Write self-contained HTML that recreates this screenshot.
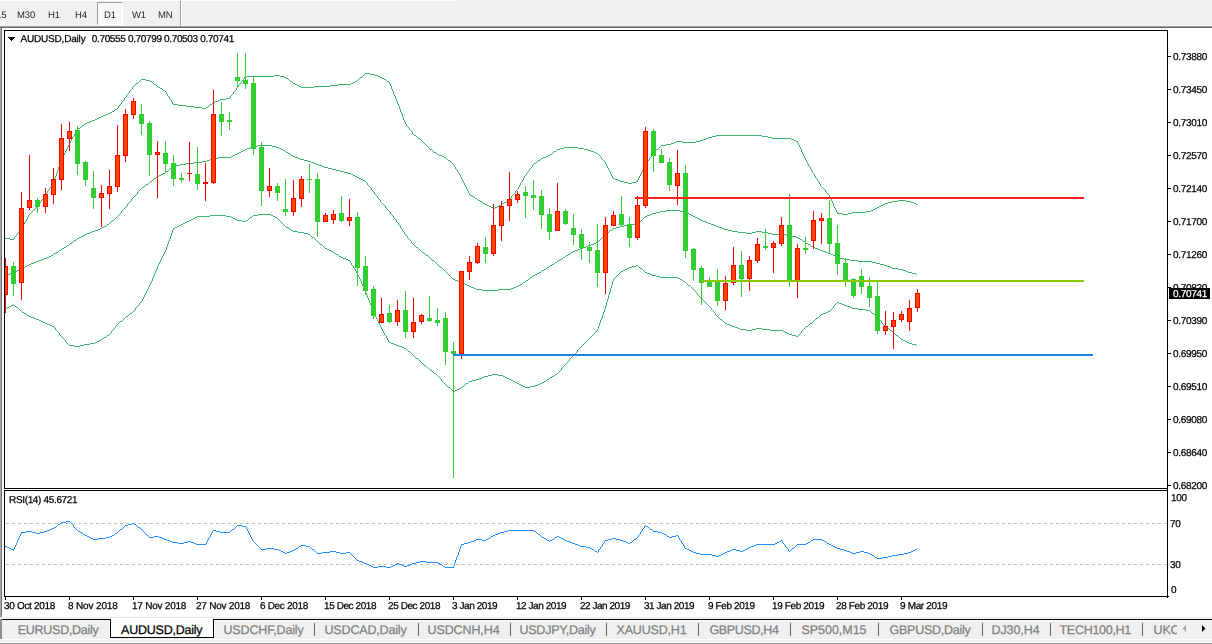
<!DOCTYPE html>
<html><head><meta charset="utf-8"><title>AUDUSD,Daily</title>
<style>
html,body{margin:0;padding:0;background:#fff;}
body{width:1212px;height:644px;overflow:hidden;position:relative;font-family:"Liberation Sans",sans-serif;}
.t{position:absolute;white-space:nowrap;line-height:1.2;text-rendering:geometricPrecision;-webkit-text-stroke:0.25px currentColor;}
#tb{position:absolute;left:0;top:0;width:1212px;height:25px;background:#f0f0f0;}
.abs{position:absolute;}
svg{position:absolute;left:0;top:0;}
</style></head><body>
<div id="tb"></div>
<div class="abs" style="left:0;top:0;width:454px;height:1px;background:#fff"></div>
<div class="abs" style="left:0;top:25px;width:1212px;height:1px;background:#f4f4f4"></div>
<div class="abs" style="left:0;top:26px;width:1212px;height:1px;background:#a0a0a0"></div>
<div class="abs" style="left:0;top:27px;width:1212px;height:1px;background:#686868"></div>
<div class="abs" style="left:0;top:28px;width:1px;height:590px;background:#aaaaaa"></div>
<div class="abs" style="left:1px;top:28px;width:1px;height:589px;background:#727272"></div>
<!-- toolbar buttons -->
<div class="abs" style="left:97px;top:2px;width:26px;height:23px;background:repeating-conic-gradient(#fff 0% 25%, #f0f0f0 0% 50%) 0 0/2px 2px;border-left:1px solid #a0a0a0;border-top:1px solid #a0a0a0;border-right:1px solid #fff;border-bottom:1px solid #fff;box-sizing:border-box"></div>
<div class="abs" style="left:180px;top:1px;width:1px;height:25px;background:#a0a0a0"></div><div class="abs" style="left:181px;top:1px;width:1px;height:24px;background:#fff"></div>
<div class="t" style="left:-4.0px;top:10px;font-size:9.5px;color:#282828;letter-spacing:-0.1px;will-change:transform;-webkit-text-stroke:0;">15</div><div class="t" style="left:16.7px;top:10px;font-size:9.5px;color:#282828;letter-spacing:-0.1px;will-change:transform;-webkit-text-stroke:0;">M30</div><div class="t" style="left:47.7px;top:10px;font-size:9.5px;color:#282828;letter-spacing:-0.1px;will-change:transform;-webkit-text-stroke:0;">H1</div><div class="t" style="left:74.9px;top:10px;font-size:9.5px;color:#282828;letter-spacing:-0.1px;will-change:transform;-webkit-text-stroke:0;">H4</div><div class="t" style="left:103.5px;top:10px;font-size:9.5px;color:#282828;letter-spacing:-0.1px;will-change:transform;-webkit-text-stroke:0;">D1</div><div class="t" style="left:131.5px;top:10px;font-size:9.5px;color:#282828;letter-spacing:-0.1px;will-change:transform;-webkit-text-stroke:0;">W1</div><div class="t" style="left:158.0px;top:10px;font-size:9.5px;color:#282828;letter-spacing:-0.1px;will-change:transform;-webkit-text-stroke:0;">MN</div>
<!-- tab bar -->
<div class="abs" style="left:2px;top:617px;width:1210px;height:1px;background:#e4e4e4"></div>
<div class="abs" style="left:0;top:620px;width:1212px;height:19px;background:#f0f0f0"></div>
<div class="abs" style="left:0;top:619px;width:1212px;height:1px;background:#000"></div>
<div class="abs" style="left:214px;top:620px;width:998px;height:1px;background:#fff"></div>
<div class="abs" style="left:214px;top:620px;width:1px;height:18px;background:#fff"></div>
<div class="abs" style="left:109px;top:620px;width:1px;height:18px;background:#fff"></div>
<div class="abs" style="left:0;top:619px;width:2px;height:20px;background:#909090"></div>
<div class="abs" style="left:110px;top:618px;width:104px;height:20px;background:#fff;border:1px solid #000;border-top:none;box-sizing:border-box"></div>
<div class="abs" style="left:110px;top:618px;width:104px;height:1px;background:#fff"></div>
<div class="abs" style="left:0;top:639px;width:1212px;height:1px;background:#fff"></div>
<div class="abs" style="left:0;top:640px;width:1212px;height:2px;background:#f0f0f0"></div>
<div class="abs" style="left:0;top:642px;width:1212px;height:1px;background:#f4f4f4"></div>
<div class="abs" style="left:0;top:643px;width:1212px;height:1px;background:#a0a0a0"></div>
<div class="abs" style="left:314px;top:623px;width:1px;height:13px;background:#646464"></div><div class="abs" style="left:418px;top:623px;width:1px;height:13px;background:#646464"></div><div class="abs" style="left:510px;top:623px;width:1px;height:13px;background:#646464"></div><div class="abs" style="left:606px;top:623px;width:1px;height:13px;background:#646464"></div><div class="abs" style="left:698px;top:623px;width:1px;height:13px;background:#646464"></div><div class="abs" style="left:790px;top:623px;width:1px;height:13px;background:#646464"></div><div class="abs" style="left:878px;top:623px;width:1px;height:13px;background:#646464"></div><div class="abs" style="left:982px;top:623px;width:1px;height:13px;background:#646464"></div><div class="abs" style="left:1050px;top:623px;width:1px;height:13px;background:#646464"></div><div class="abs" style="left:1142px;top:623px;width:1px;height:13px;background:#646464"></div>
<div class="t" style="left:17.8px;top:623px;font-size:12.5px;letter-spacing:-0.279px;color:#808080;">EURUSD,Daily</div><div class="t" style="left:121.1px;top:623px;font-size:12.5px;letter-spacing:-0.237px;color:#000;">AUDUSD,Daily</div><div class="t" style="left:223.5px;top:623px;font-size:12.5px;letter-spacing:-0.163px;color:#808080;">USDCHF,Daily</div><div class="t" style="left:324.5px;top:623px;font-size:12.5px;letter-spacing:-0.171px;color:#808080;">USDCAD,Daily</div><div class="t" style="left:427.5px;top:623px;font-size:12.5px;letter-spacing:-0.104px;color:#808080;">USDCNH,H4</div><div class="t" style="left:519.5px;top:623px;font-size:12.5px;letter-spacing:-0.247px;color:#808080;">USDJPY,Daily</div><div class="t" style="left:616.5px;top:623px;font-size:12.5px;letter-spacing:-0.172px;color:#808080;">XAUUSD,H1</div><div class="t" style="left:709.5px;top:623px;font-size:12.5px;letter-spacing:-0.361px;color:#808080;">GBPUSD,H4</div><div class="t" style="left:801.5px;top:623px;font-size:12.5px;letter-spacing:-0.037px;color:#808080;">SP500,M15</div><div class="t" style="left:889.5px;top:623px;font-size:12.5px;letter-spacing:-0.254px;color:#808080;">GBPUSD,Daily</div><div class="t" style="left:991.5px;top:623px;font-size:12.5px;letter-spacing:-0.091px;color:#808080;">DJ30,H4</div><div class="t" style="left:1059.5px;top:623px;font-size:12.5px;letter-spacing:-0.284px;color:#808080;">TECH100,H1</div><div class="t" style="left:1153.5px;top:623px;font-size:12.5px;letter-spacing:-0.137px;color:#808080;">UKC</div>
<div class="abs" style="left:1177px;top:620px;width:35px;height:19px;background:#f0f0f0"></div>
<svg width="1212" height="644" viewBox="0 0 1212 644" shape-rendering="crispEdges">
<rect x="4" y="30" width="1164" height="1" fill="#000"/>
<rect x="4" y="30" width="1" height="459" fill="#000"/>
<rect x="4" y="488" width="1164" height="1" fill="#000"/>
<rect x="1167" y="30" width="1" height="568" fill="#000"/>
<rect x="4" y="490" width="1164" height="1" fill="#000"/>
<rect x="4" y="490" width="1" height="107" fill="#000"/>
<rect x="4" y="596" width="1165" height="1" fill="#000"/>
<path d="M5 238h5v1h-5zM10 239h4v1h-4zM14 237h1v2h-1zM15 236h1v1h-1zM16 235h1v1h-1zM17 233h1v2h-1zM18 232h1v1h-1zM19 231h1v1h-1zM20 229h1v2h-1zM21 228h1v1h-1zM22 226h1v2h-1zM23 224h1v2h-1zM24 222h1v2h-1zM25 221h1v1h-1zM26 219h1v2h-1zM27 217h1v2h-1zM28 215h1v2h-1zM29 214h1v1h-1zM30 213h1v1h-1zM31 212h1v1h-1zM32 211h1v1h-1zM33 210h1v1h-1zM34 209h1v1h-1zM35 208h1v1h-1zM36 207h1v1h-1zM37 206h1v1h-1zM38 204h1v2h-1zM39 203h1v1h-1zM40 202h1v1h-1zM41 200h1v2h-1zM42 199h1v1h-1zM43 198h1v1h-1zM44 196h1v2h-1zM45 195h1v1h-1zM46 193h1v2h-1zM47 191h1v2h-1zM48 190h1v1h-1zM49 188h1v2h-1zM50 187h1v1h-1zM51 185h1v2h-1zM52 183h1v2h-1zM53 181h1v2h-1zM54 178h1v3h-1zM55 176h1v2h-1zM56 173h1v3h-1zM57 170h1v3h-1zM58 167h1v3h-1zM59 165h1v2h-1zM60 162h1v3h-1zM61 159h1v3h-1zM62 157h1v2h-1zM63 155h1v2h-1zM64 153h1v2h-1zM65 151h1v2h-1zM66 149h1v2h-1zM67 147h1v2h-1zM68 145h1v2h-1zM69 143h1v2h-1zM70 141h1v2h-1zM71 139h1v2h-1zM72 137h1v2h-1zM73 136h1v1h-1zM74 134h1v2h-1zM75 132h1v2h-1zM76 130h1v2h-1zM77 129h1v1h-1zM78 128h2v1h-2zM80 127h1v1h-1zM81 126h1v1h-1zM82 125h2v1h-2zM84 124h1v1h-1zM85 123h2v1h-2zM87 122h3v1h-3zM90 121h2v1h-2zM92 120h3v1h-3zM95 119h2v1h-2zM97 118h2v1h-2zM99 117h2v1h-2zM101 116h2v1h-2zM103 115h3v1h-3zM106 114h2v1h-2zM108 113h2v1h-2zM110 112h2v1h-2zM112 111h2v1h-2zM114 110h1v1h-1zM115 109h2v1h-2zM117 108h1v1h-1zM118 106h1v2h-1zM119 105h1v1h-1zM120 104h1v1h-1zM121 102h1v2h-1zM122 101h1v1h-1zM123 100h1v1h-1zM124 98h1v2h-1zM125 97h1v1h-1zM126 95h1v2h-1zM127 94h1v1h-1zM128 93h1v1h-1zM129 91h1v2h-1zM130 90h1v1h-1zM131 89h1v1h-1zM132 87h1v2h-1zM133 86h1v1h-1zM134 85h1v1h-1zM135 84h1v1h-1zM136 83h2v1h-2zM138 82h1v1h-1zM139 81h1v1h-1zM140 80h1v1h-1zM141 79h5v1h-5zM146 80h4v1h-4zM150 81h2v1h-2zM152 82h1v1h-1zM153 83h1v1h-1zM154 84h2v1h-2zM156 85h1v1h-1zM157 86h1v1h-1zM158 87h2v1h-2zM160 88h2v1h-2zM162 89h1v1h-1zM163 90h2v1h-2zM165 91h1v1h-1zM166 92h1v2h-1zM167 94h1v2h-1zM168 96h1v1h-1zM169 97h1v2h-1zM170 99h1v1h-1zM171 100h1v2h-1zM172 102h1v2h-1zM173 104h5v1h-5zM178 105h8v1h-8zM186 106h8v1h-8zM194 107h8v1h-8zM202 108h4v1h-4zM206 107h2v1h-2zM208 106h1v1h-1zM209 105h1v1h-1zM210 104h2v1h-2zM212 103h1v1h-1zM213 102h2v1h-2zM215 101h3v1h-3zM218 100h2v1h-2zM220 99h6v1h-6zM226 98h4v1h-4zM230 96h1v2h-1zM231 95h1v1h-1zM232 94h1v1h-1zM233 92h1v2h-1zM234 91h1v1h-1zM235 90h1v1h-1zM236 88h1v2h-1zM237 87h1v1h-1zM238 85h1v2h-1zM239 84h1v1h-1zM240 83h1v1h-1zM241 81h1v2h-1zM242 80h1v1h-1zM243 79h1v1h-1zM244 77h1v2h-1zM245 76h29v1h-29zM274 75h6v1h-6zM280 76h4v1h-4zM284 77h2v1h-2zM286 78h2v1h-2zM288 79h1v1h-1zM289 80h1v1h-1zM290 81h2v1h-2zM292 82h1v1h-1zM293 83h2v1h-2zM295 84h2v1h-2zM297 85h2v1h-2zM299 86h2v1h-2zM301 87h13v1h-13zM314 86h16v1h-16zM330 85h8v1h-8zM338 84h13v1h-13zM351 83h2v1h-2zM353 82h2v1h-2zM355 81h2v1h-2zM357 80h1v1h-1zM358 79h1v1h-1zM359 78h1v1h-1zM360 77h2v1h-2zM362 76h1v1h-1zM363 75h1v1h-1zM364 74h1v1h-1zM365 73h5v1h-5zM370 74h5v1h-5zM375 75h3v1h-3zM378 76h2v1h-2zM380 77h2v1h-2zM382 78h2v1h-2zM384 79h2v1h-2zM386 80h1v1h-1zM387 81h2v1h-2zM389 82h1v2h-1zM390 84h1v2h-1zM391 86h1v3h-1zM392 89h1v2h-1zM393 91h1v3h-1zM394 94h1v2h-1zM395 96h1v3h-1zM396 99h1v2h-1zM397 101h1v3h-1zM398 104h1v2h-1zM399 106h1v3h-1zM400 109h1v3h-1zM401 112h1v2h-1zM402 114h1v3h-1zM403 117h1v3h-1zM404 120h1v2h-1zM405 122h1v2h-1zM406 124h1v2h-1zM407 126h1v1h-1zM408 127h1v1h-1zM409 128h1v2h-1zM410 130h1v1h-1zM411 131h1v1h-1zM412 132h1v2h-1zM413 134h1v1h-1zM414 135h2v1h-2zM416 136h1v1h-1zM417 137h1v1h-1zM418 138h2v1h-2zM420 139h1v1h-1zM421 140h1v1h-1zM422 141h1v1h-1zM423 142h1v1h-1zM424 143h1v1h-1zM425 144h1v1h-1zM426 145h1v1h-1zM427 146h1v1h-1zM428 147h1v1h-1zM429 148h1v1h-1zM430 149h2v1h-2zM432 150h1v1h-1zM433 151h1v1h-1zM434 152h2v1h-2zM436 153h1v1h-1zM437 154h2v1h-2zM439 155h3v1h-3zM442 156h2v1h-2zM444 157h2v1h-2zM446 158h1v1h-1zM447 159h1v1h-1zM448 160h2v1h-2zM450 161h1v1h-1zM451 162h1v1h-1zM452 163h1v1h-1zM453 164h1v1h-1zM454 165h1v2h-1zM455 167h1v2h-1zM456 169h1v1h-1zM457 170h1v2h-1zM458 172h1v1h-1zM459 173h1v2h-1zM460 175h1v2h-1zM461 177h1v2h-1zM462 179h1v2h-1zM463 181h1v2h-1zM464 183h1v2h-1zM465 185h1v2h-1zM466 187h1v2h-1zM467 189h1v2h-1zM468 191h1v2h-1zM469 193h1v2h-1zM470 195h2v1h-2zM472 196h2v1h-2zM474 197h1v1h-1zM475 198h2v1h-2zM477 199h1v1h-1zM478 200h2v1h-2zM480 201h2v1h-2zM482 202h1v1h-1zM483 203h2v1h-2zM485 204h2v1h-2zM487 205h2v1h-2zM489 206h2v1h-2zM491 207h2v1h-2zM493 208h2v1h-2zM495 207h2v1h-2zM497 206h2v1h-2zM499 205h2v1h-2zM501 204h1v1h-1zM502 203h2v1h-2zM504 202h2v1h-2zM506 201h1v1h-1zM507 200h2v1h-2zM509 199h1v1h-1zM510 198h1v1h-1zM511 196h1v2h-1zM512 195h1v1h-1zM513 194h1v1h-1zM514 193h1v1h-1zM515 191h1v2h-1zM516 190h1v1h-1zM517 189h1v1h-1zM518 187h1v2h-1zM519 185h1v2h-1zM520 183h1v2h-1zM521 182h1v1h-1zM522 180h1v2h-1zM523 178h1v2h-1zM524 176h1v2h-1zM525 175h1v1h-1zM526 173h1v2h-1zM527 172h1v1h-1zM528 171h1v1h-1zM529 169h1v2h-1zM530 168h1v1h-1zM531 167h1v1h-1zM532 165h1v2h-1zM533 164h1v1h-1zM534 163h2v1h-2zM536 162h1v1h-1zM537 161h1v1h-1zM538 160h2v1h-2zM540 159h1v1h-1zM541 158h2v1h-2zM543 157h3v1h-3zM546 156h2v1h-2zM548 155h2v1h-2zM550 154h2v1h-2zM552 153h1v1h-1zM553 152h1v1h-1zM554 151h2v1h-2zM556 150h1v1h-1zM557 149h3v1h-3zM560 148h4v1h-4zM564 147h14v1h-14zM578 148h6v1h-6zM584 149h4v1h-4zM588 150h3v1h-3zM591 151h3v1h-3zM594 152h2v1h-2zM596 153h2v1h-2zM598 154h1v1h-1zM599 155h1v1h-1zM600 156h1v1h-1zM601 157h1v2h-1zM602 159h1v1h-1zM603 160h1v1h-1zM604 161h1v1h-1zM605 162h1v2h-1zM606 164h1v2h-1zM607 166h1v2h-1zM608 168h1v2h-1zM609 170h1v2h-1zM610 172h1v2h-1zM611 174h1v2h-1zM612 176h1v2h-1zM613 178h2v1h-2zM615 179h3v1h-3zM618 180h2v1h-2zM620 181h4v1h-4zM624 182h4v1h-4zM628 183h4v1h-4zM632 182h4v1h-4zM636 181h2v1h-2zM637 180h1v1h-1zM638 178h1v2h-1zM639 176h1v2h-1zM640 174h1v2h-1zM641 172h1v2h-1zM642 170h1v2h-1zM643 168h1v2h-1zM644 166h1v2h-1zM645 165h1v1h-1zM646 163h1v2h-1zM647 161h1v2h-1zM648 160h1v1h-1zM649 158h1v2h-1zM650 157h1v1h-1zM651 155h1v2h-1zM652 153h1v2h-1zM653 152h1v1h-1zM654 151h1v1h-1zM655 150h1v1h-1zM656 149h2v1h-2zM658 148h1v1h-1zM659 147h1v1h-1zM660 146h1v1h-1zM661 145h5v1h-5zM666 144h5v1h-5zM671 143h3v1h-3zM674 142h2v1h-2zM676 141h6v1h-6zM682 142h14v1h-14zM696 141h4v1h-4zM700 140h3v1h-3zM703 139h3v1h-3zM706 138h2v1h-2zM708 137h4v1h-4zM712 136h4v1h-4zM716 135h46v1h-46zM762 136h6v1h-6zM768 137h4v1h-4zM772 138h19v1h-19zM791 139h3v1h-3zM794 140h2v1h-2zM796 141h2v1h-2zM797 142h1v1h-1zM798 143h1v2h-1zM799 145h1v2h-1zM800 147h1v2h-1zM801 149h1v3h-1zM802 152h1v2h-1zM803 154h1v2h-1zM804 156h1v2h-1zM805 158h1v2h-1zM806 160h1v2h-1zM807 162h1v2h-1zM808 164h1v2h-1zM809 166h1v1h-1zM810 167h1v2h-1zM811 169h1v2h-1zM812 171h1v2h-1zM813 173h1v1h-1zM814 174h1v2h-1zM815 176h1v2h-1zM816 178h1v1h-1zM817 179h1v2h-1zM818 181h1v1h-1zM819 182h1v2h-1zM820 184h1v2h-1zM821 186h1v1h-1zM822 187h1v1h-1zM823 188h1v1h-1zM824 189h1v1h-1zM825 190h1v2h-1zM826 192h1v1h-1zM827 193h1v1h-1zM828 194h1v1h-1zM829 195h1v2h-1zM830 197h1v2h-1zM831 199h1v2h-1zM832 201h1v2h-1zM833 203h1v3h-1zM834 206h1v2h-1zM835 208h1v2h-1zM836 210h1v2h-1zM837 212h1v1h-1zM837 213h5v1h-5zM842 214h6v1h-6zM848 213h4v1h-4zM852 212h14v1h-14zM866 211h5v1h-5zM871 210h2v1h-2zM873 209h2v1h-2zM875 208h2v1h-2zM877 207h2v1h-2zM879 206h2v1h-2zM881 205h2v1h-2zM883 204h2v1h-2zM885 203h3v1h-3zM888 202h4v1h-4zM892 201h6v1h-6zM898 200h8v1h-8zM906 201h5v1h-5zM911 202h3v1h-3zM914 203h2v1h-2zM916 204h1v1h-1z" fill="#3cb371"/>
<path d="M5 275h2v1h-2zM7 274h3v1h-3zM10 273h2v1h-2zM12 272h3v1h-3zM15 271h2v1h-2zM17 270h2v1h-2zM19 269h2v1h-2zM21 268h2v1h-2zM23 267h2v1h-2zM25 266h2v1h-2zM27 265h2v1h-2zM29 264h2v1h-2zM31 263h3v1h-3zM34 262h2v1h-2zM36 261h3v1h-3zM39 260h3v1h-3zM42 259h2v1h-2zM44 258h3v1h-3zM47 257h2v1h-2zM49 256h2v1h-2zM51 255h2v1h-2zM53 254h1v1h-1zM54 253h2v1h-2zM56 252h2v1h-2zM58 251h1v1h-1zM59 250h2v1h-2zM61 249h1v1h-1zM62 248h2v1h-2zM64 247h2v1h-2zM66 246h1v1h-1zM67 245h2v1h-2zM69 244h1v1h-1zM70 243h2v1h-2zM72 242h1v1h-1zM73 241h1v1h-1zM74 240h2v1h-2zM76 239h1v1h-1zM77 238h2v1h-2zM79 237h2v1h-2zM81 236h2v1h-2zM83 235h2v1h-2zM85 234h2v1h-2zM87 233h3v1h-3zM90 232h2v1h-2zM92 231h3v1h-3zM95 230h3v1h-3zM98 229h2v1h-2zM100 228h2v1h-2zM102 227h2v1h-2zM104 226h2v1h-2zM106 225h1v1h-1zM107 224h2v1h-2zM109 223h1v1h-1zM110 222h1v1h-1zM111 221h1v1h-1zM112 220h2v1h-2zM114 219h1v1h-1zM115 218h1v1h-1zM116 217h1v1h-1zM117 216h1v1h-1zM118 215h1v1h-1zM119 214h1v1h-1zM120 213h1v1h-1zM121 211h1v2h-1zM122 210h1v1h-1zM123 209h1v1h-1zM124 208h1v1h-1zM125 207h1v1h-1zM126 206h1v1h-1zM127 204h1v2h-1zM128 203h1v1h-1zM129 202h1v1h-1zM130 201h1v1h-1zM131 199h1v2h-1zM132 198h1v1h-1zM133 197h1v1h-1zM134 196h1v1h-1zM135 195h1v1h-1zM136 194h1v1h-1zM137 192h1v2h-1zM138 191h1v1h-1zM139 190h1v1h-1zM140 189h1v1h-1zM141 188h1v1h-1zM142 187h2v1h-2zM144 186h1v1h-1zM145 185h1v1h-1zM146 184h2v1h-2zM148 183h1v1h-1zM149 182h1v1h-1zM150 181h2v1h-2zM152 180h1v1h-1zM153 179h1v1h-1zM154 178h2v1h-2zM156 177h1v1h-1zM157 176h2v1h-2zM159 175h2v1h-2zM161 174h2v1h-2zM163 173h2v1h-2zM165 172h1v1h-1zM166 171h2v1h-2zM168 170h1v1h-1zM169 169h1v1h-1zM170 168h2v1h-2zM172 167h1v1h-1zM173 166h3v1h-3zM176 165h4v1h-4zM180 164h6v1h-6zM186 163h8v1h-8zM194 162h8v1h-8zM202 161h5v1h-5zM207 160h3v1h-3zM210 159h2v1h-2zM212 158h6v1h-6zM218 157h13v1h-13zM231 156h2v1h-2zM233 155h2v1h-2zM235 154h2v1h-2zM237 153h2v1h-2zM239 152h2v1h-2zM241 151h2v1h-2zM243 150h2v1h-2zM245 149h2v1h-2zM247 148h3v1h-3zM250 147h2v1h-2zM252 146h6v1h-6zM258 145h14v1h-14zM272 146h4v1h-4zM276 147h3v1h-3zM279 148h2v1h-2zM281 149h2v1h-2zM283 150h2v1h-2zM285 151h1v1h-1zM286 152h2v1h-2zM288 153h2v1h-2zM290 154h1v1h-1zM291 155h2v1h-2zM293 156h2v1h-2zM295 157h3v1h-3zM298 158h2v1h-2zM300 159h4v1h-4zM304 160h4v1h-4zM308 161h3v1h-3zM311 162h3v1h-3zM314 163h2v1h-2zM316 164h3v1h-3zM319 165h3v1h-3zM322 166h2v1h-2zM324 167h4v1h-4zM328 168h4v1h-4zM332 169h4v1h-4zM336 170h4v1h-4zM340 171h4v1h-4zM344 172h4v1h-4zM348 173h3v1h-3zM351 174h2v1h-2zM353 175h2v1h-2zM355 176h2v1h-2zM357 177h2v1h-2zM359 178h2v1h-2zM361 179h2v1h-2zM363 180h2v1h-2zM365 181h1v1h-1zM366 182h1v1h-1zM367 183h1v2h-1zM368 185h1v1h-1zM369 186h1v1h-1zM370 187h1v1h-1zM371 188h1v2h-1zM372 190h1v1h-1zM373 191h1v1h-1zM374 192h1v2h-1zM375 194h1v1h-1zM376 195h1v1h-1zM377 196h1v2h-1zM378 198h1v1h-1zM379 199h1v1h-1zM380 200h1v2h-1zM381 202h1v1h-1zM382 203h1v1h-1zM383 204h1v1h-1zM384 205h1v1h-1zM385 206h1v2h-1zM386 208h1v1h-1zM387 209h1v1h-1zM388 210h1v1h-1zM389 211h1v1h-1zM390 212h1v2h-1zM391 214h1v1h-1zM392 215h1v1h-1zM393 216h1v2h-1zM394 218h1v1h-1zM395 219h1v1h-1zM396 220h1v2h-1zM397 222h1v1h-1zM398 223h1v2h-1zM399 225h1v1h-1zM400 226h1v2h-1zM401 228h1v1h-1zM402 229h1v2h-1zM403 231h1v1h-1zM404 232h1v2h-1zM405 234h1v1h-1zM406 235h1v1h-1zM407 236h1v2h-1zM408 238h1v1h-1zM409 239h1v1h-1zM410 240h1v1h-1zM411 241h1v2h-1zM412 243h1v1h-1zM413 244h1v1h-1zM414 245h1v1h-1zM415 246h1v1h-1zM416 247h2v1h-2zM418 248h1v1h-1zM419 249h1v1h-1zM420 250h1v1h-1zM421 251h1v1h-1zM422 252h2v1h-2zM424 253h1v1h-1zM425 254h1v1h-1zM426 255h2v1h-2zM428 256h1v1h-1zM429 257h1v1h-1zM430 258h1v1h-1zM431 259h1v1h-1zM432 260h2v1h-2zM434 261h1v1h-1zM435 262h1v1h-1zM436 263h1v1h-1zM437 264h1v1h-1zM438 265h1v1h-1zM439 266h1v1h-1zM440 267h2v1h-2zM442 268h1v1h-1zM443 269h1v1h-1zM444 270h1v1h-1zM445 271h1v1h-1zM446 272h1v1h-1zM447 273h1v1h-1zM448 274h1v1h-1zM449 275h1v1h-1zM450 276h1v1h-1zM451 277h1v1h-1zM452 278h1v1h-1zM453 279h2v1h-2zM455 280h3v1h-3zM458 281h2v1h-2zM460 282h3v1h-3zM463 283h2v1h-2zM465 284h2v1h-2zM467 285h2v1h-2zM469 286h2v1h-2zM471 287h3v1h-3zM474 288h2v1h-2zM476 289h6v1h-6zM482 290h16v1h-16zM498 289h13v1h-13zM511 288h3v1h-3zM514 287h2v1h-2zM516 286h2v1h-2zM518 285h2v1h-2zM520 284h2v1h-2zM522 283h1v1h-1zM523 282h2v1h-2zM525 281h1v1h-1zM526 280h2v1h-2zM528 279h1v1h-1zM529 278h1v1h-1zM530 277h2v1h-2zM532 276h1v1h-1zM533 275h2v1h-2zM535 274h2v1h-2zM537 273h2v1h-2zM539 272h2v1h-2zM541 271h1v1h-1zM542 270h2v1h-2zM544 269h2v1h-2zM546 268h1v1h-1zM547 267h2v1h-2zM549 266h1v1h-1zM550 265h2v1h-2zM552 264h2v1h-2zM554 263h1v1h-1zM555 262h2v1h-2zM557 261h1v1h-1zM558 260h2v1h-2zM560 259h2v1h-2zM562 258h1v1h-1zM563 257h2v1h-2zM565 256h1v1h-1zM566 255h2v1h-2zM568 254h2v1h-2zM570 253h1v1h-1zM571 252h2v1h-2zM573 251h2v1h-2zM575 250h3v1h-3zM578 249h2v1h-2zM580 248h3v1h-3zM583 247h3v1h-3zM586 246h2v1h-2zM588 245h3v1h-3zM591 244h3v1h-3zM594 243h2v1h-2zM596 242h2v1h-2zM598 241h1v1h-1zM599 240h1v1h-1zM600 239h1v1h-1zM601 238h1v1h-1zM602 237h1v1h-1zM603 236h1v1h-1zM604 235h1v1h-1zM605 234h1v1h-1zM606 233h2v1h-2zM608 232h1v1h-1zM609 231h1v1h-1zM610 230h2v1h-2zM612 229h1v1h-1zM613 228h3v1h-3zM616 227h4v1h-4zM620 226h4v1h-4zM624 225h4v1h-4zM628 224h10v1h-10zM638 223h1v1h-1zM639 222h1v1h-1zM640 221h1v1h-1zM641 220h1v1h-1zM642 219h1v1h-1zM643 218h1v1h-1zM644 217h1v1h-1zM645 216h2v1h-2zM647 215h3v1h-3zM650 214h2v1h-2zM652 213h4v1h-4zM656 212h4v1h-4zM660 211h6v1h-6zM666 210h14v1h-14zM680 211h4v1h-4zM684 212h3v1h-3zM687 213h2v1h-2zM689 214h2v1h-2zM691 215h2v1h-2zM693 216h2v1h-2zM695 217h2v1h-2zM697 218h2v1h-2zM699 219h2v1h-2zM701 220h2v1h-2zM703 221h3v1h-3zM706 222h2v1h-2zM708 223h3v1h-3zM711 224h3v1h-3zM714 225h2v1h-2zM716 226h3v1h-3zM719 227h3v1h-3zM722 228h2v1h-2zM724 229h4v1h-4zM728 230h4v1h-4zM732 231h6v1h-6zM738 232h8v1h-8zM746 233h6v1h-6zM752 232h4v1h-4zM756 231h6v1h-6zM762 232h6v1h-6zM768 233h4v1h-4zM772 234h14v1h-14zM786 235h6v1h-6zM792 236h4v1h-4zM796 237h2v1h-2zM798 238h2v1h-2zM800 239h2v1h-2zM802 240h1v1h-1zM803 241h2v1h-2zM805 242h1v1h-1zM806 243h2v1h-2zM808 244h2v1h-2zM810 245h1v1h-1zM811 246h2v1h-2zM813 247h2v1h-2zM815 248h3v1h-3zM818 249h2v1h-2zM820 250h3v1h-3zM823 251h3v1h-3zM826 252h2v1h-2zM828 253h3v1h-3zM831 254h2v1h-2zM833 255h2v1h-2zM835 256h2v1h-2zM837 257h3v1h-3zM840 258h4v1h-4zM844 259h6v1h-6zM850 260h8v1h-8zM858 261h14v1h-14zM872 262h4v1h-4zM876 263h4v1h-4zM880 264h4v1h-4zM884 265h3v1h-3zM887 266h3v1h-3zM890 267h2v1h-2zM892 268h6v1h-6zM898 269h5v1h-5zM903 270h3v1h-3zM906 271h2v1h-2zM908 272h4v1h-4zM912 273h4v1h-4zM916 274h1v1h-1z" fill="#3cb371"/>
<path d="M5 308h2v1h-2zM7 307h2v1h-2zM9 306h2v1h-2zM11 305h2v1h-2zM13 304h1v1h-1zM14 305h1v1h-1zM15 306h1v1h-1zM16 307h2v1h-2zM18 308h1v1h-1zM19 309h1v1h-1zM20 310h1v1h-1zM21 311h1v1h-1zM22 312h2v1h-2zM24 313h2v1h-2zM26 314h1v1h-1zM27 315h2v1h-2zM29 316h2v1h-2zM31 317h3v1h-3zM34 318h2v1h-2zM36 319h3v1h-3zM39 320h2v1h-2zM41 321h2v1h-2zM43 322h2v1h-2zM45 323h2v1h-2zM47 324h3v1h-3zM50 325h2v1h-2zM52 326h2v1h-2zM54 327h1v1h-1zM55 328h1v2h-1zM56 330h1v1h-1zM57 331h1v1h-1zM58 332h1v1h-1zM59 333h1v2h-1zM60 335h1v1h-1zM61 336h1v1h-1zM62 337h1v1h-1zM63 338h1v1h-1zM64 339h1v1h-1zM65 340h1v2h-1zM66 342h1v1h-1zM67 343h1v1h-1zM68 344h1v1h-1zM69 345h5v1h-5zM74 346h6v1h-6zM80 345h4v1h-4zM84 344h6v1h-6zM90 343h5v1h-5zM95 342h2v1h-2zM97 341h2v1h-2zM99 340h2v1h-2zM101 339h1v1h-1zM102 338h2v1h-2zM104 337h2v1h-2zM106 336h1v1h-1zM107 335h2v1h-2zM109 334h1v1h-1zM110 333h1v1h-1zM111 331h1v2h-1zM112 330h1v1h-1zM113 329h1v1h-1zM114 328h1v1h-1zM115 326h1v2h-1zM116 325h1v1h-1zM117 324h1v1h-1zM118 323h1v1h-1zM119 322h1v1h-1zM120 321h2v1h-2zM122 320h1v1h-1zM123 319h1v1h-1zM124 318h1v1h-1zM125 317h1v1h-1zM126 316h2v1h-2zM128 315h1v1h-1zM129 314h1v1h-1zM130 313h2v1h-2zM132 312h1v1h-1zM133 311h1v1h-1zM134 310h1v1h-1zM135 308h1v2h-1zM136 307h1v1h-1zM137 306h1v1h-1zM138 305h1v1h-1zM139 303h1v2h-1zM140 302h1v1h-1zM141 301h1v1h-1zM142 299h1v2h-1zM143 297h1v2h-1zM144 295h1v2h-1zM145 293h1v2h-1zM146 291h1v2h-1zM147 289h1v2h-1zM148 287h1v2h-1zM149 285h1v2h-1zM150 283h1v2h-1zM151 281h1v2h-1zM152 278h1v3h-1zM153 276h1v2h-1zM154 273h1v3h-1zM155 271h1v2h-1zM156 269h1v2h-1zM157 266h1v3h-1zM158 264h1v2h-1zM159 262h1v2h-1zM160 260h1v2h-1zM161 258h1v2h-1zM162 256h1v2h-1zM163 254h1v2h-1zM164 252h1v2h-1zM165 250h1v2h-1zM166 247h1v3h-1zM167 244h1v3h-1zM168 241h1v3h-1zM169 239h1v2h-1zM170 236h1v3h-1zM171 233h1v3h-1zM172 230h1v3h-1zM173 229h1v1h-1zM173 228h2v1h-2zM175 227h2v1h-2zM177 226h2v1h-2zM179 225h2v1h-2zM181 224h2v1h-2zM183 223h2v1h-2zM185 222h2v1h-2zM187 221h2v1h-2zM189 220h2v1h-2zM191 219h2v1h-2zM193 218h2v1h-2zM195 217h2v1h-2zM197 216h13v1h-13zM210 215h16v1h-16zM226 216h5v1h-5zM231 217h2v1h-2zM233 218h2v1h-2zM235 219h2v1h-2zM237 220h5v1h-5zM242 221h4v1h-4zM246 220h2v1h-2zM248 219h1v1h-1zM249 218h1v1h-1zM250 217h2v1h-2zM252 216h1v1h-1zM253 215h5v1h-5zM258 214h13v1h-13zM271 215h2v1h-2zM273 216h2v1h-2zM275 217h2v1h-2zM277 218h1v1h-1zM278 219h1v1h-1zM279 220h1v1h-1zM280 221h1v1h-1zM281 222h1v1h-1zM282 223h1v1h-1zM283 224h1v1h-1zM284 225h1v1h-1zM285 226h1v1h-1zM286 227h2v1h-2zM288 228h2v1h-2zM290 229h1v1h-1zM291 230h2v1h-2zM293 231h5v1h-5zM298 232h6v1h-6zM304 233h4v1h-4zM308 234h2v1h-2zM310 235h1v1h-1zM311 236h1v1h-1zM312 237h2v1h-2zM314 238h1v1h-1zM315 239h1v1h-1zM316 240h1v1h-1zM317 241h1v1h-1zM318 242h1v1h-1zM319 243h1v1h-1zM320 244h2v1h-2zM322 245h1v1h-1zM323 246h1v1h-1zM324 247h1v1h-1zM325 248h2v1h-2zM327 249h2v1h-2zM329 250h2v1h-2zM331 251h2v1h-2zM333 252h1v1h-1zM334 253h2v1h-2zM336 254h2v1h-2zM338 255h1v1h-1zM339 256h2v1h-2zM341 257h2v1h-2zM343 258h3v1h-3zM346 259h2v1h-2zM348 260h2v1h-2zM350 261h1v2h-1zM351 263h1v2h-1zM352 265h1v1h-1zM353 266h1v2h-1zM354 268h1v1h-1zM355 269h1v2h-1zM356 271h1v2h-1zM357 273h1v2h-1zM358 275h1v2h-1zM359 277h1v2h-1zM360 279h1v2h-1zM361 281h1v3h-1zM362 284h1v2h-1zM363 286h1v2h-1zM364 288h1v2h-1zM365 290h1v3h-1zM366 293h1v2h-1zM367 295h1v3h-1zM368 298h1v2h-1zM369 300h1v3h-1zM370 303h1v2h-1zM371 305h1v3h-1zM372 308h1v2h-1zM373 310h1v3h-1zM374 313h1v2h-1zM375 315h1v2h-1zM376 317h1v2h-1zM377 319h1v2h-1zM378 321h1v2h-1zM379 323h1v2h-1zM380 325h1v2h-1zM381 327h1v2h-1zM382 329h1v2h-1zM383 331h1v2h-1zM384 333h1v2h-1zM385 335h1v1h-1zM386 336h1v2h-1zM387 338h1v2h-1zM388 340h1v2h-1zM389 342h2v1h-2zM391 343h3v1h-3zM394 344h2v1h-2zM396 345h3v1h-3zM399 346h3v1h-3zM402 347h2v1h-2zM404 348h2v1h-2zM406 349h1v1h-1zM407 350h1v1h-1zM408 351h2v1h-2zM410 352h1v1h-1zM411 353h1v1h-1zM412 354h1v1h-1zM413 355h1v1h-1zM414 356h1v1h-1zM415 357h1v1h-1zM416 358h2v1h-2zM418 359h1v1h-1zM419 360h1v1h-1zM420 361h1v1h-1zM421 362h1v1h-1zM422 363h1v1h-1zM423 364h1v1h-1zM424 365h2v1h-2zM426 366h1v1h-1zM427 367h1v1h-1zM428 368h1v1h-1zM429 369h1v1h-1zM430 370h2v1h-2zM432 371h1v1h-1zM433 372h1v1h-1zM434 373h2v1h-2zM436 374h1v1h-1zM437 375h1v1h-1zM438 376h1v1h-1zM439 377h1v1h-1zM440 378h1v1h-1zM441 379h1v2h-1zM442 381h1v1h-1zM443 382h1v1h-1zM444 383h1v1h-1zM445 384h1v1h-1zM446 385h1v1h-1zM447 386h1v1h-1zM448 387h2v1h-2zM450 388h1v1h-1zM451 389h1v1h-1zM452 390h1v1h-1zM453 391h2v1h-2zM455 390h2v1h-2zM457 389h2v1h-2zM459 388h2v1h-2zM461 387h1v1h-1zM462 386h2v1h-2zM464 385h1v1h-1zM465 384h1v1h-1zM466 383h2v1h-2zM468 382h1v1h-1zM469 381h3v1h-3zM472 380h4v1h-4zM476 379h3v1h-3zM479 378h3v1h-3zM482 377h2v1h-2zM484 376h4v1h-4zM488 375h4v1h-4zM492 374h6v1h-6zM498 375h5v1h-5zM503 376h2v1h-2zM505 377h2v1h-2zM507 378h2v1h-2zM509 379h2v1h-2zM511 380h2v1h-2zM513 381h2v1h-2zM515 382h2v1h-2zM517 383h2v1h-2zM519 384h2v1h-2zM521 385h2v1h-2zM523 386h2v1h-2zM525 387h5v1h-5zM530 386h5v1h-5zM535 385h3v1h-3zM538 384h2v1h-2zM540 383h2v1h-2zM542 382h2v1h-2zM544 381h2v1h-2zM546 380h1v1h-1zM547 379h2v1h-2zM549 378h1v1h-1zM550 377h2v1h-2zM552 376h2v1h-2zM554 375h1v1h-1zM555 374h2v1h-2zM557 373h1v1h-1zM558 372h1v1h-1zM559 371h1v1h-1zM560 370h1v1h-1zM561 368h1v2h-1zM562 367h1v1h-1zM563 366h1v1h-1zM564 365h1v1h-1zM565 364h1v1h-1zM566 363h1v1h-1zM567 362h1v1h-1zM568 361h1v1h-1zM569 359h1v2h-1zM570 358h1v1h-1zM571 357h1v1h-1zM572 356h1v1h-1zM573 355h1v1h-1zM574 354h1v1h-1zM575 353h1v1h-1zM576 352h1v1h-1zM577 350h1v2h-1zM578 349h1v1h-1zM579 348h1v1h-1zM580 347h1v1h-1zM581 346h1v1h-1zM582 345h1v1h-1zM583 344h1v1h-1zM584 343h1v1h-1zM585 342h1v1h-1zM586 341h1v1h-1zM587 340h1v1h-1zM588 339h1v1h-1zM589 338h1v1h-1zM590 337h1v1h-1zM591 336h1v1h-1zM592 335h1v1h-1zM593 334h1v1h-1zM594 333h1v1h-1zM595 332h1v1h-1zM596 331h1v1h-1zM597 329h1v2h-1zM598 326h1v3h-1zM599 323h1v3h-1zM600 320h1v3h-1zM601 318h1v2h-1zM602 315h1v3h-1zM603 312h1v3h-1zM604 309h1v3h-1zM605 306h1v3h-1zM606 302h1v4h-1zM607 299h1v3h-1zM608 295h1v4h-1zM609 292h1v3h-1zM610 288h1v4h-1zM611 285h1v3h-1zM612 281h1v4h-1zM613 279h1v2h-1zM614 278h1v1h-1zM615 277h1v1h-1zM616 276h1v1h-1zM617 275h1v1h-1zM618 274h1v1h-1zM619 273h1v1h-1zM620 272h1v1h-1zM621 271h2v1h-2zM623 270h2v1h-2zM625 269h2v1h-2zM627 268h2v1h-2zM629 267h3v1h-3zM632 266h4v1h-4zM636 265h2v1h-2zM638 266h1v1h-1zM639 267h1v1h-1zM640 268h2v1h-2zM642 269h1v1h-1zM643 270h1v1h-1zM644 271h1v1h-1zM645 272h2v1h-2zM647 273h3v1h-3zM650 274h2v1h-2zM652 275h4v1h-4zM656 276h4v1h-4zM660 277h18v1h-18zM678 278h2v1h-2zM680 279h2v1h-2zM682 280h1v1h-1zM683 281h2v1h-2zM685 282h1v1h-1zM686 283h1v1h-1zM687 284h1v1h-1zM688 285h2v1h-2zM690 286h1v1h-1zM691 287h1v1h-1zM692 288h1v1h-1zM693 289h1v1h-1zM694 290h1v1h-1zM695 291h1v1h-1zM696 292h1v1h-1zM697 293h1v2h-1zM698 295h1v1h-1zM699 296h1v1h-1zM700 297h1v1h-1zM701 298h1v1h-1zM702 299h1v1h-1zM703 300h1v1h-1zM704 301h1v1h-1zM705 302h1v1h-1zM706 303h1v1h-1zM707 304h1v1h-1zM708 305h1v1h-1zM709 306h1v1h-1zM710 307h1v1h-1zM711 308h1v2h-1zM712 310h1v1h-1zM713 311h1v1h-1zM714 312h1v1h-1zM715 313h1v2h-1zM716 315h1v1h-1zM717 316h1v1h-1zM718 317h1v1h-1zM719 318h1v1h-1zM720 319h2v1h-2zM722 320h1v1h-1zM723 321h1v1h-1zM724 322h1v1h-1zM725 323h2v1h-2zM727 324h3v1h-3zM730 325h2v1h-2zM732 326h3v1h-3zM735 327h3v1h-3zM738 328h2v1h-2zM740 329h6v1h-6zM746 330h6v1h-6zM752 329h4v1h-4zM756 328h6v1h-6zM762 329h8v1h-8zM770 330h13v1h-13zM783 331h2v1h-2zM785 332h2v1h-2zM787 333h2v1h-2zM789 334h3v1h-3zM792 335h4v1h-4zM796 336h2v1h-2zM798 335h1v1h-1zM799 334h1v1h-1zM800 333h1v1h-1zM801 331h1v2h-1zM802 330h1v1h-1zM803 329h1v1h-1zM804 328h1v1h-1zM805 327h1v1h-1zM806 326h2v1h-2zM808 325h1v1h-1zM809 324h1v1h-1zM810 323h2v1h-2zM812 322h1v1h-1zM813 321h1v1h-1zM814 320h1v1h-1zM815 319h1v1h-1zM816 318h2v1h-2zM818 317h1v1h-1zM819 316h1v1h-1zM820 315h1v1h-1zM821 314h2v1h-2zM823 313h3v1h-3zM826 312h2v1h-2zM828 311h2v1h-2zM830 310h1v1h-1zM831 309h1v1h-1zM832 308h1v1h-1zM833 306h1v2h-1zM834 305h1v1h-1zM835 304h1v1h-1zM836 303h1v1h-1zM837 302h2v1h-2zM839 303h3v1h-3zM842 304h2v1h-2zM844 305h3v1h-3zM847 306h3v1h-3zM850 307h2v1h-2zM852 308h6v1h-6zM858 309h8v1h-8zM866 310h4v1h-4zM870 311h1v1h-1zM871 312h1v1h-1zM872 313h2v1h-2zM874 314h1v1h-1zM875 315h1v1h-1zM876 316h1v1h-1zM877 317h1v1h-1zM878 318h1v1h-1zM879 319h1v1h-1zM880 320h1v1h-1zM881 321h1v2h-1zM882 323h1v1h-1zM883 324h1v1h-1zM884 325h1v1h-1zM885 326h1v1h-1zM886 327h2v1h-2zM888 328h1v1h-1zM889 329h1v1h-1zM890 330h2v1h-2zM892 331h1v1h-1zM893 332h1v1h-1zM894 333h1v1h-1zM895 334h1v1h-1zM896 335h2v1h-2zM898 336h1v1h-1zM899 337h1v1h-1zM900 338h1v1h-1zM901 339h2v1h-2zM903 340h2v1h-2zM905 341h2v1h-2zM907 342h2v1h-2zM909 343h3v1h-3zM912 344h4v1h-4zM916 345h1v1h-1z" fill="#3cb371"/>
<rect x="5" y="258" width="1" height="55" fill="#ff0000"/>
<rect x="5" y="266" width="3" height="29" fill="#ff0000"/>
<rect x="5" y="267" width="2" height="27" fill="#ff4500"/>
<rect x="13" y="262" width="1" height="34" fill="#32cd32"/>
<rect x="11" y="266" width="5" height="18" fill="#32cd32"/>
<rect x="21" y="192" width="1" height="108" fill="#ff0000"/>
<rect x="19" y="208" width="5" height="75" fill="#ff0000"/>
<rect x="20" y="209" width="3" height="73" fill="#ff4500"/>
<rect x="29" y="155" width="1" height="55" fill="#ff0000"/>
<rect x="27" y="200" width="5" height="8" fill="#ff0000"/>
<rect x="28" y="201" width="3" height="6" fill="#ff4500"/>
<rect x="37" y="198" width="1" height="15" fill="#32cd32"/>
<rect x="35" y="200" width="5" height="7" fill="#32cd32"/>
<rect x="45" y="188" width="1" height="25" fill="#ff0000"/>
<rect x="43" y="194" width="5" height="13" fill="#ff0000"/>
<rect x="44" y="195" width="3" height="11" fill="#ff4500"/>
<rect x="53" y="168" width="1" height="36" fill="#ff0000"/>
<rect x="51" y="179" width="5" height="16" fill="#ff0000"/>
<rect x="52" y="180" width="3" height="14" fill="#ff4500"/>
<rect x="61" y="124" width="1" height="66" fill="#ff0000"/>
<rect x="59" y="138" width="5" height="42" fill="#ff0000"/>
<rect x="60" y="139" width="3" height="40" fill="#ff4500"/>
<rect x="69" y="122" width="1" height="29" fill="#ff0000"/>
<rect x="67" y="131" width="5" height="8" fill="#ff0000"/>
<rect x="68" y="132" width="3" height="6" fill="#ff4500"/>
<rect x="77" y="126" width="1" height="49" fill="#32cd32"/>
<rect x="75" y="130" width="5" height="34" fill="#32cd32"/>
<rect x="85" y="161" width="1" height="25" fill="#32cd32"/>
<rect x="83" y="162" width="5" height="18" fill="#32cd32"/>
<rect x="93" y="171" width="1" height="38" fill="#32cd32"/>
<rect x="91" y="188" width="5" height="10" fill="#32cd32"/>
<rect x="101" y="185" width="1" height="42" fill="#ff0000"/>
<rect x="99" y="193" width="5" height="5" fill="#ff0000"/>
<rect x="100" y="194" width="3" height="3" fill="#ff4500"/>
<rect x="109" y="170" width="1" height="39" fill="#ff0000"/>
<rect x="107" y="186" width="5" height="8" fill="#ff0000"/>
<rect x="108" y="187" width="3" height="6" fill="#ff4500"/>
<rect x="117" y="125" width="1" height="67" fill="#ff0000"/>
<rect x="115" y="155" width="5" height="32" fill="#ff0000"/>
<rect x="116" y="156" width="3" height="30" fill="#ff4500"/>
<rect x="125" y="109" width="1" height="53" fill="#ff0000"/>
<rect x="123" y="114" width="5" height="42" fill="#ff0000"/>
<rect x="124" y="115" width="3" height="40" fill="#ff4500"/>
<rect x="133" y="98" width="1" height="21" fill="#ff0000"/>
<rect x="131" y="101" width="5" height="14" fill="#ff0000"/>
<rect x="132" y="102" width="3" height="12" fill="#ff4500"/>
<rect x="141" y="104" width="1" height="31" fill="#32cd32"/>
<rect x="139" y="114" width="5" height="10" fill="#32cd32"/>
<rect x="149" y="121" width="1" height="55" fill="#32cd32"/>
<rect x="147" y="123" width="5" height="32" fill="#32cd32"/>
<rect x="157" y="141" width="1" height="57" fill="#ff0000"/>
<rect x="155" y="152" width="5" height="3" fill="#ff0000"/>
<rect x="156" y="153" width="3" height="1" fill="#ff4500"/>
<rect x="165" y="141" width="1" height="32" fill="#32cd32"/>
<rect x="163" y="153" width="5" height="11" fill="#32cd32"/>
<rect x="173" y="155" width="1" height="31" fill="#32cd32"/>
<rect x="171" y="163" width="5" height="16" fill="#32cd32"/>
<rect x="181" y="173" width="1" height="10" fill="#32cd32"/>
<rect x="179" y="178" width="5" height="2" fill="#32cd32"/>
<rect x="189" y="142" width="1" height="39" fill="#ff0000"/>
<rect x="187" y="173" width="5" height="1" fill="#ff0000"/>
<rect x="197" y="147" width="1" height="43" fill="#32cd32"/>
<rect x="195" y="174" width="5" height="10" fill="#32cd32"/>
<rect x="205" y="163" width="1" height="38" fill="#ff0000"/>
<rect x="203" y="182" width="5" height="2" fill="#ff0000"/>
<rect x="213" y="90" width="1" height="94" fill="#ff0000"/>
<rect x="211" y="114" width="5" height="69" fill="#ff0000"/>
<rect x="212" y="115" width="3" height="67" fill="#ff4500"/>
<rect x="221" y="102" width="1" height="34" fill="#32cd32"/>
<rect x="219" y="114" width="5" height="8" fill="#32cd32"/>
<rect x="229" y="112" width="1" height="18" fill="#32cd32"/>
<rect x="227" y="120" width="5" height="2" fill="#32cd32"/>
<rect x="237" y="53" width="1" height="35" fill="#32cd32"/>
<rect x="235" y="77" width="5" height="4" fill="#32cd32"/>
<rect x="245" y="53" width="1" height="36" fill="#32cd32"/>
<rect x="243" y="80" width="5" height="4" fill="#32cd32"/>
<rect x="253" y="77" width="1" height="78" fill="#32cd32"/>
<rect x="251" y="83" width="5" height="66" fill="#32cd32"/>
<rect x="261" y="142" width="1" height="64" fill="#32cd32"/>
<rect x="259" y="147" width="5" height="44" fill="#32cd32"/>
<rect x="269" y="168" width="1" height="29" fill="#ff0000"/>
<rect x="267" y="186" width="5" height="5" fill="#ff0000"/>
<rect x="268" y="187" width="3" height="3" fill="#ff4500"/>
<rect x="277" y="183" width="1" height="18" fill="#32cd32"/>
<rect x="275" y="186" width="5" height="7" fill="#32cd32"/>
<rect x="285" y="179" width="1" height="37" fill="#32cd32"/>
<rect x="283" y="209" width="5" height="3" fill="#32cd32"/>
<rect x="293" y="180" width="1" height="36" fill="#ff0000"/>
<rect x="291" y="198" width="5" height="14" fill="#ff0000"/>
<rect x="292" y="199" width="3" height="12" fill="#ff4500"/>
<rect x="301" y="176" width="1" height="31" fill="#ff0000"/>
<rect x="299" y="179" width="5" height="20" fill="#ff0000"/>
<rect x="300" y="180" width="3" height="18" fill="#ff4500"/>
<rect x="309" y="164" width="1" height="29" fill="#32cd32"/>
<rect x="307" y="179" width="5" height="1" fill="#32cd32"/>
<rect x="317" y="173" width="1" height="64" fill="#32cd32"/>
<rect x="315" y="179" width="5" height="43" fill="#32cd32"/>
<rect x="325" y="213" width="1" height="9" fill="#ff0000"/>
<rect x="323" y="215" width="5" height="7" fill="#ff0000"/>
<rect x="324" y="216" width="3" height="5" fill="#ff4500"/>
<rect x="333" y="210" width="1" height="14" fill="#ff0000"/>
<rect x="331" y="214" width="5" height="6" fill="#ff0000"/>
<rect x="332" y="215" width="3" height="4" fill="#ff4500"/>
<rect x="341" y="196" width="1" height="26" fill="#32cd32"/>
<rect x="339" y="213" width="5" height="8" fill="#32cd32"/>
<rect x="349" y="199" width="1" height="27" fill="#ff0000"/>
<rect x="347" y="217" width="5" height="4" fill="#ff0000"/>
<rect x="348" y="218" width="3" height="2" fill="#ff4500"/>
<rect x="357" y="212" width="1" height="74" fill="#32cd32"/>
<rect x="355" y="217" width="5" height="51" fill="#32cd32"/>
<rect x="365" y="256" width="1" height="39" fill="#32cd32"/>
<rect x="363" y="266" width="5" height="25" fill="#32cd32"/>
<rect x="373" y="286" width="1" height="33" fill="#32cd32"/>
<rect x="371" y="289" width="5" height="27" fill="#32cd32"/>
<rect x="381" y="298" width="1" height="25" fill="#ff0000"/>
<rect x="379" y="314" width="5" height="9" fill="#ff0000"/>
<rect x="380" y="315" width="3" height="7" fill="#ff4500"/>
<rect x="389" y="305" width="1" height="18" fill="#32cd32"/>
<rect x="387" y="313" width="5" height="9" fill="#32cd32"/>
<rect x="397" y="300" width="1" height="26" fill="#ff0000"/>
<rect x="395" y="310" width="5" height="12" fill="#ff0000"/>
<rect x="396" y="311" width="3" height="10" fill="#ff4500"/>
<rect x="405" y="291" width="1" height="47" fill="#32cd32"/>
<rect x="403" y="310" width="5" height="22" fill="#32cd32"/>
<rect x="413" y="298" width="1" height="40" fill="#ff0000"/>
<rect x="411" y="322" width="5" height="10" fill="#ff0000"/>
<rect x="412" y="323" width="3" height="8" fill="#ff4500"/>
<rect x="421" y="314" width="1" height="10" fill="#ff0000"/>
<rect x="419" y="315" width="5" height="7" fill="#ff0000"/>
<rect x="420" y="316" width="3" height="5" fill="#ff4500"/>
<rect x="429" y="296" width="1" height="26" fill="#32cd32"/>
<rect x="427" y="318" width="5" height="3" fill="#32cd32"/>
<rect x="437" y="308" width="1" height="18" fill="#32cd32"/>
<rect x="435" y="320" width="5" height="3" fill="#32cd32"/>
<rect x="445" y="312" width="1" height="53" fill="#32cd32"/>
<rect x="443" y="318" width="5" height="34" fill="#32cd32"/>
<rect x="453" y="342" width="1" height="136" fill="#32cd32"/>
<rect x="451" y="351" width="5" height="3" fill="#32cd32"/>
<rect x="461" y="271" width="1" height="88" fill="#ff0000"/>
<rect x="459" y="271" width="5" height="83" fill="#ff0000"/>
<rect x="460" y="272" width="3" height="81" fill="#ff4500"/>
<rect x="469" y="256" width="1" height="24" fill="#ff0000"/>
<rect x="467" y="262" width="5" height="10" fill="#ff0000"/>
<rect x="468" y="263" width="3" height="8" fill="#ff4500"/>
<rect x="477" y="243" width="1" height="21" fill="#ff0000"/>
<rect x="475" y="246" width="5" height="17" fill="#ff0000"/>
<rect x="476" y="247" width="3" height="15" fill="#ff4500"/>
<rect x="485" y="237" width="1" height="26" fill="#32cd32"/>
<rect x="483" y="247" width="5" height="7" fill="#32cd32"/>
<rect x="493" y="204" width="1" height="52" fill="#ff0000"/>
<rect x="491" y="225" width="5" height="29" fill="#ff0000"/>
<rect x="492" y="226" width="3" height="27" fill="#ff4500"/>
<rect x="501" y="201" width="1" height="40" fill="#ff0000"/>
<rect x="499" y="206" width="5" height="20" fill="#ff0000"/>
<rect x="500" y="207" width="3" height="18" fill="#ff4500"/>
<rect x="509" y="172" width="1" height="49" fill="#ff0000"/>
<rect x="507" y="199" width="5" height="7" fill="#ff0000"/>
<rect x="508" y="200" width="3" height="5" fill="#ff4500"/>
<rect x="517" y="191" width="1" height="12" fill="#ff0000"/>
<rect x="515" y="194" width="5" height="6" fill="#ff0000"/>
<rect x="516" y="195" width="3" height="4" fill="#ff4500"/>
<rect x="525" y="186" width="1" height="32" fill="#32cd32"/>
<rect x="523" y="192" width="5" height="4" fill="#32cd32"/>
<rect x="533" y="180" width="1" height="30" fill="#32cd32"/>
<rect x="531" y="195" width="5" height="3" fill="#32cd32"/>
<rect x="541" y="190" width="1" height="39" fill="#32cd32"/>
<rect x="539" y="196" width="5" height="19" fill="#32cd32"/>
<rect x="549" y="208" width="1" height="32" fill="#32cd32"/>
<rect x="547" y="214" width="5" height="18" fill="#32cd32"/>
<rect x="557" y="183" width="1" height="48" fill="#ff0000"/>
<rect x="555" y="211" width="5" height="20" fill="#ff0000"/>
<rect x="556" y="212" width="3" height="18" fill="#ff4500"/>
<rect x="565" y="209" width="1" height="16" fill="#32cd32"/>
<rect x="563" y="211" width="5" height="13" fill="#32cd32"/>
<rect x="573" y="214" width="1" height="31" fill="#32cd32"/>
<rect x="571" y="228" width="5" height="7" fill="#32cd32"/>
<rect x="581" y="229" width="1" height="31" fill="#32cd32"/>
<rect x="579" y="234" width="5" height="14" fill="#32cd32"/>
<rect x="589" y="242" width="1" height="21" fill="#32cd32"/>
<rect x="587" y="247" width="5" height="4" fill="#32cd32"/>
<rect x="597" y="224" width="1" height="63" fill="#32cd32"/>
<rect x="595" y="250" width="5" height="23" fill="#32cd32"/>
<rect x="605" y="217" width="1" height="77" fill="#ff0000"/>
<rect x="603" y="225" width="5" height="48" fill="#ff0000"/>
<rect x="604" y="226" width="3" height="46" fill="#ff4500"/>
<rect x="613" y="211" width="1" height="15" fill="#ff0000"/>
<rect x="611" y="215" width="5" height="11" fill="#ff0000"/>
<rect x="612" y="216" width="3" height="9" fill="#ff4500"/>
<rect x="621" y="196" width="1" height="31" fill="#32cd32"/>
<rect x="619" y="214" width="5" height="11" fill="#32cd32"/>
<rect x="629" y="217" width="1" height="30" fill="#32cd32"/>
<rect x="627" y="224" width="5" height="14" fill="#32cd32"/>
<rect x="637" y="196" width="1" height="44" fill="#ff0000"/>
<rect x="635" y="205" width="5" height="33" fill="#ff0000"/>
<rect x="636" y="206" width="3" height="31" fill="#ff4500"/>
<rect x="645" y="127" width="1" height="81" fill="#ff0000"/>
<rect x="643" y="131" width="5" height="75" fill="#ff0000"/>
<rect x="644" y="132" width="3" height="73" fill="#ff4500"/>
<rect x="653" y="129" width="1" height="43" fill="#32cd32"/>
<rect x="651" y="131" width="5" height="25" fill="#32cd32"/>
<rect x="661" y="149" width="1" height="14" fill="#32cd32"/>
<rect x="659" y="155" width="5" height="8" fill="#32cd32"/>
<rect x="669" y="158" width="1" height="33" fill="#32cd32"/>
<rect x="667" y="162" width="5" height="23" fill="#32cd32"/>
<rect x="677" y="150" width="1" height="55" fill="#ff0000"/>
<rect x="675" y="173" width="5" height="13" fill="#ff0000"/>
<rect x="676" y="174" width="3" height="11" fill="#ff4500"/>
<rect x="685" y="165" width="1" height="93" fill="#32cd32"/>
<rect x="683" y="173" width="5" height="78" fill="#32cd32"/>
<rect x="693" y="248" width="1" height="33" fill="#32cd32"/>
<rect x="691" y="249" width="5" height="21" fill="#32cd32"/>
<rect x="701" y="266" width="1" height="39" fill="#32cd32"/>
<rect x="699" y="268" width="5" height="15" fill="#32cd32"/>
<rect x="709" y="277" width="1" height="10" fill="#32cd32"/>
<rect x="707" y="282" width="5" height="5" fill="#32cd32"/>
<rect x="717" y="269" width="1" height="37" fill="#32cd32"/>
<rect x="715" y="282" width="5" height="19" fill="#32cd32"/>
<rect x="725" y="276" width="1" height="34" fill="#ff0000"/>
<rect x="723" y="283" width="5" height="18" fill="#ff0000"/>
<rect x="724" y="284" width="3" height="16" fill="#ff4500"/>
<rect x="733" y="247" width="1" height="38" fill="#ff0000"/>
<rect x="731" y="265" width="5" height="18" fill="#ff0000"/>
<rect x="732" y="266" width="3" height="16" fill="#ff4500"/>
<rect x="741" y="251" width="1" height="46" fill="#32cd32"/>
<rect x="739" y="265" width="5" height="14" fill="#32cd32"/>
<rect x="749" y="256" width="1" height="35" fill="#ff0000"/>
<rect x="747" y="260" width="5" height="19" fill="#ff0000"/>
<rect x="748" y="261" width="3" height="17" fill="#ff4500"/>
<rect x="757" y="238" width="1" height="25" fill="#ff0000"/>
<rect x="755" y="244" width="5" height="17" fill="#ff0000"/>
<rect x="756" y="245" width="3" height="15" fill="#ff4500"/>
<rect x="765" y="229" width="1" height="21" fill="#32cd32"/>
<rect x="763" y="246" width="5" height="2" fill="#32cd32"/>
<rect x="773" y="241" width="1" height="32" fill="#ff0000"/>
<rect x="771" y="243" width="5" height="5" fill="#ff0000"/>
<rect x="772" y="244" width="3" height="3" fill="#ff4500"/>
<rect x="781" y="217" width="1" height="29" fill="#ff0000"/>
<rect x="779" y="225" width="5" height="19" fill="#ff0000"/>
<rect x="780" y="226" width="3" height="17" fill="#ff4500"/>
<rect x="789" y="194" width="1" height="93" fill="#32cd32"/>
<rect x="787" y="225" width="5" height="57" fill="#32cd32"/>
<rect x="797" y="244" width="1" height="54" fill="#ff0000"/>
<rect x="795" y="248" width="5" height="34" fill="#ff0000"/>
<rect x="796" y="249" width="3" height="32" fill="#ff4500"/>
<rect x="805" y="237" width="1" height="17" fill="#32cd32"/>
<rect x="803" y="248" width="5" height="2" fill="#32cd32"/>
<rect x="813" y="211" width="1" height="38" fill="#ff0000"/>
<rect x="811" y="220" width="5" height="21" fill="#ff0000"/>
<rect x="812" y="221" width="3" height="19" fill="#ff4500"/>
<rect x="821" y="213" width="1" height="31" fill="#ff0000"/>
<rect x="819" y="218" width="5" height="3" fill="#ff0000"/>
<rect x="820" y="219" width="3" height="1" fill="#ff4500"/>
<rect x="829" y="200" width="1" height="54" fill="#32cd32"/>
<rect x="827" y="218" width="5" height="26" fill="#32cd32"/>
<rect x="837" y="225" width="1" height="50" fill="#32cd32"/>
<rect x="835" y="243" width="5" height="21" fill="#32cd32"/>
<rect x="845" y="258" width="1" height="29" fill="#32cd32"/>
<rect x="843" y="263" width="5" height="17" fill="#32cd32"/>
<rect x="853" y="278" width="1" height="20" fill="#32cd32"/>
<rect x="851" y="279" width="5" height="17" fill="#32cd32"/>
<rect x="861" y="269" width="1" height="25" fill="#32cd32"/>
<rect x="859" y="276" width="5" height="11" fill="#32cd32"/>
<rect x="869" y="277" width="1" height="30" fill="#32cd32"/>
<rect x="867" y="286" width="5" height="12" fill="#32cd32"/>
<rect x="877" y="282" width="1" height="52" fill="#32cd32"/>
<rect x="875" y="296" width="5" height="35" fill="#32cd32"/>
<rect x="885" y="311" width="1" height="24" fill="#ff0000"/>
<rect x="883" y="326" width="5" height="5" fill="#ff0000"/>
<rect x="884" y="327" width="3" height="3" fill="#ff4500"/>
<rect x="893" y="312" width="1" height="37" fill="#ff0000"/>
<rect x="891" y="320" width="5" height="7" fill="#ff0000"/>
<rect x="892" y="321" width="3" height="5" fill="#ff4500"/>
<rect x="901" y="311" width="1" height="11" fill="#ff0000"/>
<rect x="899" y="314" width="5" height="6" fill="#ff0000"/>
<rect x="900" y="315" width="3" height="4" fill="#ff4500"/>
<rect x="909" y="300" width="1" height="31" fill="#ff0000"/>
<rect x="907" y="308" width="5" height="14" fill="#ff0000"/>
<rect x="908" y="309" width="3" height="12" fill="#ff4500"/>
<rect x="917" y="289" width="1" height="23" fill="#ff0000"/>
<rect x="915" y="293" width="5" height="15" fill="#ff0000"/>
<rect x="916" y="294" width="3" height="13" fill="#ff4500"/>
<rect x="635" y="197" width="449" height="2" fill="#ff2020"/>
<rect x="701" y="280" width="383" height="2" fill="#8cc800"/>
<rect x="453" y="354" width="640" height="2" fill="#1e82e1"/>
<g shape-rendering="crispEdges" stroke="#c0c0c0" stroke-width="1" stroke-dasharray="3 3"><line x1="6" y1="523.5" x2="1167" y2="523.5"/><line x1="6" y1="564.5" x2="1167" y2="564.5"/></g>
<path d="M5 546h2v1h-2zM7 547h2v1h-2zM9 548h2v1h-2zM11 549h3v1h-3zM13 550h1v1h-1zM14 547h1v2h-1zM15 545h1v2h-1zM16 543h1v2h-1zM17 540h1v3h-1zM18 538h1v2h-1zM19 536h1v2h-1zM20 534h1v2h-1zM21 533h1v1h-1zM21 532h5v1h-5zM26 531h6v1h-6zM32 532h4v1h-4zM36 533h4v1h-4zM40 532h4v1h-4zM44 531h3v1h-3zM47 530h3v1h-3zM50 529h2v1h-2zM52 528h2v1h-2zM54 527h2v1h-2zM56 526h1v1h-1zM57 525h1v1h-1zM58 524h2v1h-2zM60 523h1v1h-1zM61 522h5v1h-5zM66 521h4v1h-4zM70 522h1v1h-1zM71 523h1v1h-1zM72 524h1v1h-1zM73 525h1v2h-1zM74 527h1v1h-1zM75 528h1v1h-1zM76 529h1v1h-1zM77 530h1v1h-1zM78 531h2v1h-2zM80 532h2v1h-2zM82 533h1v1h-1zM83 534h2v1h-2zM85 535h2v1h-2zM87 536h2v1h-2zM89 537h2v1h-2zM91 538h2v1h-2zM93 539h5v1h-5zM98 538h8v1h-8zM106 537h4v1h-4zM110 536h2v1h-2zM112 535h2v1h-2zM114 534h1v1h-1zM115 533h2v1h-2zM117 532h1v1h-1zM118 531h1v1h-1zM119 530h1v1h-1zM120 529h2v1h-2zM122 528h1v1h-1zM123 527h1v1h-1zM124 526h1v1h-1zM125 525h3v1h-3zM128 524h4v1h-4zM132 523h2v1h-2zM134 524h2v1h-2zM136 525h1v1h-1zM137 526h1v1h-1zM138 527h2v1h-2zM140 528h1v1h-1zM141 529h1v1h-1zM142 530h1v1h-1zM143 531h1v1h-1zM144 532h1v1h-1zM145 533h1v1h-1zM146 534h1v1h-1zM147 535h1v1h-1zM148 536h1v1h-1zM149 537h5v1h-5zM154 536h5v1h-5zM159 537h3v1h-3zM162 538h2v1h-2zM164 539h3v1h-3zM167 540h3v1h-3zM170 541h2v1h-2zM172 542h6v1h-6zM178 543h6v1h-6zM184 542h4v1h-4zM188 541h3v1h-3zM191 542h3v1h-3zM194 543h2v1h-2zM196 544h10v1h-10zM206 542h1v2h-1zM207 540h1v2h-1zM208 538h1v2h-1zM209 537h1v1h-1zM210 535h1v2h-1zM211 533h1v2h-1zM212 531h1v2h-1zM213 530h3v1h-3zM216 531h4v1h-4zM220 532h10v1h-10zM230 531h1v1h-1zM231 530h1v1h-1zM232 529h2v1h-2zM234 528h1v1h-1zM235 527h1v1h-1zM236 526h1v1h-1zM237 525h5v1h-5zM242 526h4v1h-4zM246 527h1v2h-1zM247 529h1v2h-1zM248 531h1v2h-1zM249 533h1v2h-1zM250 535h1v2h-1zM251 537h1v2h-1zM252 539h1v2h-1zM253 541h1v1h-1zM254 542h1v1h-1zM255 543h1v1h-1zM256 544h1v1h-1zM257 545h1v1h-1zM258 546h1v1h-1zM259 547h1v1h-1zM260 548h1v1h-1zM261 549h5v1h-5zM266 548h8v1h-8zM274 549h5v1h-5zM279 550h2v1h-2zM281 551h2v1h-2zM283 552h2v1h-2zM285 553h2v1h-2zM287 552h3v1h-3zM290 551h2v1h-2zM292 550h2v1h-2zM294 549h2v1h-2zM296 548h2v1h-2zM298 547h1v1h-1zM299 546h2v1h-2zM301 545h5v1h-5zM306 546h4v1h-4zM310 547h1v1h-1zM311 548h1v1h-1zM312 549h2v1h-2zM314 550h1v1h-1zM315 551h1v1h-1zM316 552h1v1h-1zM317 553h5v1h-5zM322 552h8v1h-8zM330 551h6v1h-6zM336 552h4v1h-4zM340 553h6v1h-6zM346 552h4v1h-4zM350 553h1v1h-1zM351 554h1v1h-1zM352 555h1v1h-1zM353 556h1v1h-1zM354 557h1v1h-1zM355 558h1v1h-1zM356 559h1v1h-1zM357 560h2v1h-2zM359 561h3v1h-3zM362 562h2v1h-2zM364 563h3v1h-3zM367 564h2v1h-2zM369 565h2v1h-2zM371 566h2v1h-2zM373 567h5v1h-5zM378 566h8v1h-8zM386 567h5v1h-5zM391 566h2v1h-2zM393 565h2v1h-2zM395 564h2v1h-2zM397 563h2v1h-2zM399 564h3v1h-3zM402 565h2v1h-2zM404 566h3v1h-3zM407 565h3v1h-3zM410 564h2v1h-2zM412 563h4v1h-4zM416 562h4v1h-4zM420 561h6v1h-6zM426 562h12v1h-12zM438 563h2v1h-2zM440 564h2v1h-2zM442 565h1v1h-1zM443 566h2v1h-2zM445 567h9v1h-9zM453 566h1v1h-1zM454 563h1v3h-1zM455 560h1v3h-1zM456 557h1v3h-1zM457 555h1v2h-1zM458 552h1v3h-1zM459 549h1v3h-1zM460 546h1v3h-1zM461 545h1v1h-1zM461 544h3v1h-3zM464 543h4v1h-4zM468 542h3v1h-3zM471 541h3v1h-3zM474 540h2v1h-2zM476 539h6v1h-6zM482 540h4v1h-4zM486 539h2v1h-2zM488 538h2v1h-2zM490 537h1v1h-1zM491 536h2v1h-2zM493 535h2v1h-2zM495 534h3v1h-3zM498 533h2v1h-2zM500 532h4v1h-4zM504 531h4v1h-4zM508 530h26v1h-26zM534 531h2v1h-2zM536 532h1v1h-1zM537 533h1v1h-1zM538 534h2v1h-2zM540 535h1v1h-1zM541 536h1v1h-1zM542 537h2v1h-2zM544 538h2v1h-2zM546 539h1v1h-1zM547 540h2v1h-2zM549 541h1v1h-1zM550 540h2v1h-2zM552 539h2v1h-2zM554 538h1v1h-1zM555 537h2v1h-2zM557 536h2v1h-2zM559 537h2v1h-2zM561 538h2v1h-2zM563 539h2v1h-2zM565 540h2v1h-2zM567 541h3v1h-3zM570 542h2v1h-2zM572 543h3v1h-3zM575 544h3v1h-3zM578 545h2v1h-2zM580 546h6v1h-6zM586 547h4v1h-4zM590 548h2v1h-2zM592 549h2v1h-2zM594 550h1v1h-1zM595 551h2v1h-2zM597 552h1v1h-1zM598 550h1v2h-1zM599 549h1v1h-1zM600 547h1v2h-1zM601 546h1v1h-1zM602 544h1v2h-1zM603 543h1v1h-1zM604 541h1v2h-1zM605 540h3v1h-3zM608 539h4v1h-4zM612 538h4v1h-4zM616 539h4v1h-4zM620 540h3v1h-3zM623 541h3v1h-3zM626 542h2v1h-2zM628 543h2v1h-2zM630 542h2v1h-2zM632 541h1v1h-1zM633 540h1v1h-1zM634 539h2v1h-2zM636 538h1v1h-1zM637 537h1v1h-1zM638 535h1v2h-1zM639 534h1v1h-1zM640 532h1v2h-1zM641 531h1v1h-1zM642 529h1v2h-1zM643 528h1v1h-1zM644 526h1v2h-1zM645 525h1v1h-1zM646 526h2v1h-2zM648 527h1v1h-1zM649 528h1v1h-1zM650 529h2v1h-2zM652 530h1v1h-1zM653 531h5v1h-5zM658 532h4v1h-4zM662 533h2v1h-2zM664 534h2v1h-2zM666 535h1v1h-1zM667 536h2v1h-2zM669 537h3v1h-3zM672 536h4v1h-4zM676 535h2v1h-2zM678 536h1v2h-1zM679 538h1v2h-1zM680 540h1v1h-1zM681 541h1v2h-1zM682 543h1v1h-1zM683 544h1v2h-1zM684 546h1v2h-1zM685 548h2v1h-2zM687 549h2v1h-2zM689 550h2v1h-2zM691 551h2v1h-2zM693 552h3v1h-3zM696 553h4v1h-4zM700 554h12v1h-12zM712 555h4v1h-4zM716 556h3v1h-3zM719 555h2v1h-2zM721 554h2v1h-2zM723 553h2v1h-2zM725 552h2v1h-2zM727 551h3v1h-3zM730 550h2v1h-2zM732 549h4v1h-4zM736 550h4v1h-4zM740 551h3v1h-3zM743 550h2v1h-2zM745 549h2v1h-2zM747 548h2v1h-2zM749 547h2v1h-2zM751 546h3v1h-3zM754 545h2v1h-2zM756 544h19v1h-19zM775 543h2v1h-2zM777 542h2v1h-2zM779 541h2v1h-2zM781 540h1v1h-1zM782 541h1v2h-1zM783 543h1v1h-1zM784 544h1v1h-1zM785 545h1v2h-1zM786 547h1v1h-1zM787 548h1v1h-1zM788 549h1v2h-1zM789 551h1v1h-1zM790 550h1v1h-1zM791 549h1v1h-1zM792 548h2v1h-2zM794 547h1v1h-1zM795 546h1v1h-1zM796 545h1v1h-1zM797 544h9v1h-9zM806 543h2v1h-2zM808 542h2v1h-2zM810 541h1v1h-1zM811 540h2v1h-2zM813 539h9v1h-9zM822 540h2v1h-2zM824 541h2v1h-2zM826 542h1v1h-1zM827 543h2v1h-2zM829 544h2v1h-2zM831 545h2v1h-2zM833 546h2v1h-2zM835 547h2v1h-2zM837 548h3v1h-3zM840 549h4v1h-4zM844 550h3v1h-3zM847 551h3v1h-3zM850 552h2v1h-2zM852 553h4v1h-4zM856 552h4v1h-4zM860 551h4v1h-4zM864 552h4v1h-4zM868 553h2v1h-2zM870 554h2v1h-2zM872 555h2v1h-2zM874 556h1v1h-1zM875 557h2v1h-2zM877 558h5v1h-5zM882 557h6v1h-6zM888 556h4v1h-4zM892 555h6v1h-6zM898 554h6v1h-6zM904 553h4v1h-4zM908 552h3v1h-3zM911 551h2v1h-2zM913 550h2v1h-2zM915 549h2v1h-2z" fill="#1e90ff"/>
<rect x="1168" y="56" width="3" height="1" fill="#000"/>
<rect x="1168" y="89" width="3" height="1" fill="#000"/>
<rect x="1168" y="122" width="3" height="1" fill="#000"/>
<rect x="1168" y="155" width="3" height="1" fill="#000"/>
<rect x="1168" y="188" width="3" height="1" fill="#000"/>
<rect x="1168" y="221" width="3" height="1" fill="#000"/>
<rect x="1168" y="254" width="3" height="1" fill="#000"/>
<rect x="1168" y="287" width="3" height="1" fill="#000"/>
<rect x="1168" y="320" width="3" height="1" fill="#000"/>
<rect x="1168" y="353" width="3" height="1" fill="#000"/>
<rect x="1168" y="386" width="3" height="1" fill="#000"/>
<rect x="1168" y="419" width="3" height="1" fill="#000"/>
<rect x="1168" y="452" width="3" height="1" fill="#000"/>
<rect x="1168" y="485" width="3" height="1" fill="#000"/>
<rect x="5" y="597" width="1" height="3" fill="#000"/>
<rect x="69" y="597" width="1" height="3" fill="#000"/>
<rect x="133" y="597" width="1" height="3" fill="#000"/>
<rect x="197" y="597" width="1" height="3" fill="#000"/>
<rect x="261" y="597" width="1" height="3" fill="#000"/>
<rect x="325" y="597" width="1" height="3" fill="#000"/>
<rect x="389" y="597" width="1" height="3" fill="#000"/>
<rect x="453" y="597" width="1" height="3" fill="#000"/>
<rect x="517" y="597" width="1" height="3" fill="#000"/>
<rect x="581" y="597" width="1" height="3" fill="#000"/>
<rect x="645" y="597" width="1" height="3" fill="#000"/>
<rect x="709" y="597" width="1" height="3" fill="#000"/>
<rect x="773" y="597" width="1" height="3" fill="#000"/>
<rect x="837" y="597" width="1" height="3" fill="#000"/>
<rect x="901" y="597" width="1" height="3" fill="#000"/>
<rect x="1169" y="288" width="41" height="11" fill="#000"/>
<rect x="1168" y="287" width="2" height="1" fill="#000"/>
<polygon points="8,37 15,37 11.5,41" fill="#000"/>
<polygon points="1186,625 1186,632 1182.6,628.5" fill="#a8a8a8" shape-rendering="geometricPrecision"/>
<polygon points="1202,625 1202,632 1205.4,628.5" fill="#000" shape-rendering="geometricPrecision"/>
</svg>
<div class="t" style="left:1173px;top:52px;font-size:10px;color:#000;letter-spacing:-0.3px;">0.73880</div><div class="t" style="left:1173px;top:85px;font-size:10px;color:#000;letter-spacing:-0.3px;">0.73450</div><div class="t" style="left:1173px;top:118px;font-size:10px;color:#000;letter-spacing:-0.3px;">0.73010</div><div class="t" style="left:1173px;top:151px;font-size:10px;color:#000;letter-spacing:-0.3px;">0.72570</div><div class="t" style="left:1173px;top:184px;font-size:10px;color:#000;letter-spacing:-0.3px;">0.72140</div><div class="t" style="left:1173px;top:217px;font-size:10px;color:#000;letter-spacing:-0.3px;">0.71700</div><div class="t" style="left:1173px;top:250px;font-size:10px;color:#000;letter-spacing:-0.3px;">0.71260</div><div class="t" style="left:1173px;top:283px;font-size:10px;color:#000;letter-spacing:-0.3px;">0.70820</div><div class="t" style="left:1173px;top:316px;font-size:10px;color:#000;letter-spacing:-0.3px;">0.70390</div><div class="t" style="left:1173px;top:349px;font-size:10px;color:#000;letter-spacing:-0.3px;">0.69950</div><div class="t" style="left:1173px;top:382px;font-size:10px;color:#000;letter-spacing:-0.3px;">0.69510</div><div class="t" style="left:1173px;top:415px;font-size:10px;color:#000;letter-spacing:-0.3px;">0.69080</div><div class="t" style="left:1173px;top:448px;font-size:10px;color:#000;letter-spacing:-0.3px;">0.68640</div><div class="t" style="left:1173px;top:481px;font-size:10px;color:#000;letter-spacing:-0.3px;">0.68200</div><div class="t" style="left:4px;top:601px;font-size:10px;color:#000;letter-spacing:-0.325px;">30 Oct 2018</div><div class="t" style="left:68px;top:601px;font-size:10px;color:#000;letter-spacing:-0.151px;">8 Nov 2018</div><div class="t" style="left:132px;top:601px;font-size:10px;color:#000;letter-spacing:-0.234px;">17 Nov 2018</div><div class="t" style="left:196px;top:601px;font-size:10px;color:#000;letter-spacing:-0.234px;">27 Nov 2018</div><div class="t" style="left:260px;top:601px;font-size:10px;color:#000;letter-spacing:-0.326px;">6 Dec 2018</div><div class="t" style="left:324px;top:601px;font-size:10px;color:#000;letter-spacing:-0.415px;">15 Dec 2018</div><div class="t" style="left:388px;top:601px;font-size:10px;color:#000;letter-spacing:-0.415px;">25 Dec 2018</div><div class="t" style="left:452px;top:601px;font-size:10px;color:#000;letter-spacing:-0.435px;">3 Jan 2019</div><div class="t" style="left:516px;top:601px;font-size:10px;color:#000;letter-spacing:-0.446px;">12 Jan 2019</div><div class="t" style="left:580px;top:601px;font-size:10px;color:#000;letter-spacing:-0.469px;">22 Jan 2019</div><div class="t" style="left:644px;top:601px;font-size:10px;color:#000;letter-spacing:-0.446px;">31 Jan 2019</div><div class="t" style="left:708px;top:601px;font-size:10px;color:#000;letter-spacing:-0.396px;">9 Feb 2019</div><div class="t" style="left:772px;top:601px;font-size:10px;color:#000;letter-spacing:-0.365px;">19 Feb 2019</div><div class="t" style="left:836px;top:601px;font-size:10px;color:#000;letter-spacing:-0.365px;">28 Feb 2019</div><div class="t" style="left:900px;top:601px;font-size:10px;color:#000;letter-spacing:-0.344px;">9 Mar 2019</div><div class="t" style="left:1171px;top:493px;font-size:10px;color:#000;letter-spacing:-0.3px;">100</div><div class="t" style="left:1170px;top:519px;font-size:10px;color:#000;letter-spacing:-0.3px;">70</div><div class="t" style="left:1170px;top:560px;font-size:10px;color:#000;letter-spacing:-0.3px;">30</div><div class="t" style="left:1171px;top:585px;font-size:10px;color:#000;letter-spacing:-0.3px;">0</div><div class="t" style="left:9px;top:495px;font-size:10px;color:#000;letter-spacing:-0.34px;">RSI(14) 45.6721</div><div class="t" style="left:20.5px;top:34px;font-size:10px;color:#000;letter-spacing:-0.19px;">AUDUSD,Daily</div><div class="t" style="left:91.8px;top:34px;font-size:10px;color:#000;letter-spacing:-0.35px;">0.70555 0.70799 0.70503 0.70741</div>
<div class="t" style="left:1173px;top:289px;font-size:10px;color:#fff;letter-spacing:-0.3px;">0.70741</div>
</body></html>
